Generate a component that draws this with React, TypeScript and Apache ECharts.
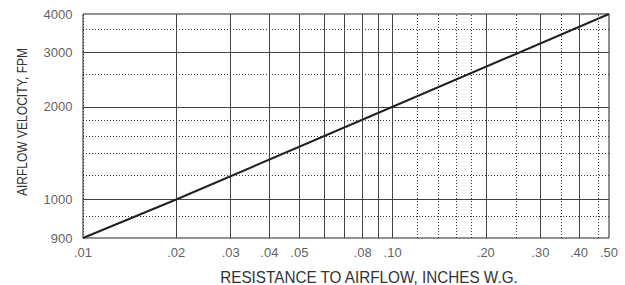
import React, { useEffect, useRef } from 'react';
import * as echarts from 'echarts';

// Data line (resistance in inches W.G. vs airflow velocity in FPM)
const resistance = [0.01, 0.02, 0.1, 0.5];
const velocity = [750, 1000, 2000, 4000];

// Axis ranges
const X_MIN = 0.01;
const X_MAX = 0.5;
const Y_MIN = 750;
const Y_MAX = 4000;

// Grid lines
const xMajorLines = [0.02, 0.03, 0.04, 0.05, 0.06, 0.07, 0.08, 0.09, 0.1, 0.2, 0.3, 0.4];
const xMinorLines = [0.012, 0.014, 0.016, 0.018, 0.0255, 0.0357, 0.0456, 0.0557, 0.0661, 0.0762, 0.0858, 0.0959, 0.12, 0.14, 0.16, 0.18, 0.254, 0.355, 0.457];
const yMajorLines = [1000, 2000, 3000];
const yMinorLines = [884, 1195, 1415, 1610, 1810, 2550, 3580];

// Tick labels
const xTickValues = [0.01, 0.02, 0.03, 0.04, 0.05, 0.08, 0.1, 0.2, 0.3, 0.4, 0.5];
const xTickLabels = ['.01', '.02', '.03', '.04', '.05', '.08', '.10', '.20', '.30', '.40', '.50'];
const yTickValues = [750, 1000, 2000, 3000, 4000];
const yTickLabels = ['900', '1000', '2000', '3000', '4000'];

const X_TITLE = 'RESISTANCE TO AIRFLOW, INCHES W.G.';
const Y_TITLE = 'AIRFLOW VELOCITY, FPM';

const FONT = '"Liberation Sans", Arial, sans-serif';

export default function App() {
  const ref = useRef<HTMLDivElement>(null);

  useEffect(() => {
    if (!ref.current) return;
    const chart = echarts.init(ref.current, undefined, { renderer: 'svg' });

    const solid = { type: 'solid', color: '#444', width: 1 };
    const dotted = { type: [1, 2], color: '#333', width: 1 };

    const gridMarks = [
      ...xMinorLines.map((v) => ({ xAxis: v, lineStyle: dotted })),
      ...yMinorLines.map((v) => ({ yAxis: v, lineStyle: dotted })),
      ...xMajorLines.map((v) => ({ xAxis: v, lineStyle: solid })),
      ...yMajorLines.map((v) => ({ yAxis: v, lineStyle: solid })),
    ];

    const lineData = resistance.map((r, i) => [r, velocity[i]]);

    const tickLabel = {
      show: true,
      fontSize: 13,
      fontFamily: FONT,
      color: '#333',
    };

    chart.setOption({
      animation: false,
      grid: {
        left: 83,
        right: 16,
        top: 14,
        bottom: 47,
        show: true,
        borderColor: '#222',
        borderWidth: 1,
        backgroundColor: 'transparent',
      },
      xAxis: {
        type: 'log',
        logBase: 10,
        min: X_MIN,
        max: X_MAX,
        axisLine: { show: false },
        axisTick: { show: false },
        axisLabel: { show: false },
        splitLine: { show: false },
      },
      yAxis: {
        type: 'log',
        logBase: 10,
        min: Y_MIN,
        max: Y_MAX,
        axisLine: { show: false },
        axisTick: { show: false },
        axisLabel: { show: false },
        splitLine: { show: false },
      },
      graphic: [
        {
          type: 'text',
          x: 22,
          y: 122,
          rotation: Math.PI / 2,
          scaleX: 0.86,
          style: {
            text: Y_TITLE,
            font: `14px ${FONT}`,
            fill: '#333',
            align: 'center',
            verticalAlign: 'middle',
          },
        },
        {
          type: 'text',
          x: 369,
          y: 277,
          scaleX: 0.954,
          style: {
            text: X_TITLE,
            font: `16px ${FONT}`,
            fill: '#333',
            align: 'center',
            verticalAlign: 'middle',
          },
        },
      ],
      series: [
        {
          type: 'line',
          z: 1,
          silent: true,
          data: lineData,
          showSymbol: false,
          lineStyle: { opacity: 0 },
          markLine: {
            silent: true,
            symbol: ['none', 'none'],
            label: { show: false },
            data: gridMarks,
          },
        },
        {
          type: 'line',
          z: 5,
          silent: true,
          data: lineData,
          showSymbol: false,
          symbol: 'none',
          lineStyle: { color: '#222', width: 2 },
        },
        {
          type: 'scatter',
          z: 6,
          silent: true,
          clip: false,
          symbolSize: 1,
          itemStyle: { color: 'transparent' },
          data: xTickValues.map((v) => [v, Y_MIN]),
          label: {
            ...tickLabel,
            position: 'bottom',
            distance: 7,
            formatter: (p: any) => xTickLabels[p.dataIndex],
          },
        },
        {
          type: 'scatter',
          z: 6,
          silent: true,
          clip: false,
          symbolSize: 1,
          itemStyle: { color: 'transparent' },
          data: yTickValues.map((v) => [X_MIN, v]),
          label: {
            ...tickLabel,
            position: 'left',
            distance: 10,
            formatter: (p: any) => yTickLabels[p.dataIndex],
          },
        },
      ],
    });

    return () => chart.dispose();
  }, []);

  return (
    <div
      ref={ref}
      style={{ position: 'fixed', left: 0, top: 0, width: 625, height: 285, background: '#fff' }}
    />
  );
}
